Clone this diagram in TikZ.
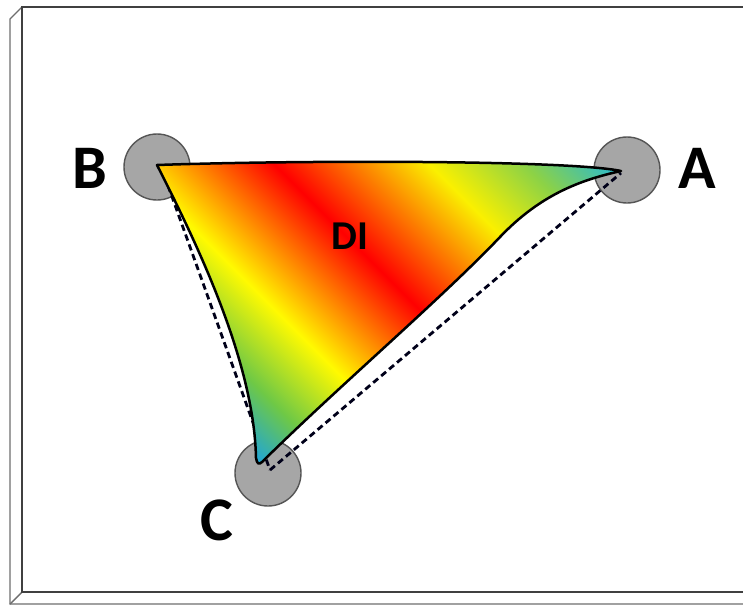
\documentclass[tikz,border=0pt]{standalone}
\usepackage{fontspec}
\setmainfont{Carlito}
\definecolor{boxgray}{RGB}{64,64,64}
\definecolor{backgray}{RGB}{110,110,110}
\definecolor{circfill}{RGB}{166,166,166}
\definecolor{circline}{RGB}{85,85,85}
\definecolor{gA}{RGB}{20,160,235}
\definecolor{gB}{RGB}{110,200,70}
\definecolor{gC}{RGB}{255,250,0}
\definecolor{gD}{RGB}{255,0,0}
\definecolor{gE}{RGB}{250,240,0}
\definecolor{gF}{RGB}{140,210,70}
\definecolor{gG}{RGB}{40,185,210}
\pgfdeclarehorizontalshading{rainbowDI}{100bp}{color(0bp)=(gA); color(28.04bp)=(gA); color(33.78bp)=(gB); color(40.2bp)=(gC); color(50bp)=(gD); color(60.47bp)=(gE); color(66.89bp)=(gF); color(72.97bp)=(gG); color(100bp)=(gG)}
\newcommand\DIshape{(157,165) .. controls (195,240) and (254,360) .. (256,458) .. controls (257,464) and (259,465) .. (262,462) .. controls (340,385) and (440,300) .. (500,237) .. controls (540,195) and (580,180) .. (621,171) .. controls (570,160) and (300,160) .. (157,165) -- cycle}
\begin{document}
\begin{tikzpicture}[x=0.5pt,y=-0.5pt,
  frontline/.style={draw=boxgray, line width=1.2pt},
  backline/.style={draw=backgray, line width=0.7pt},
  circ/.style={circle, fill=circfill, draw=circline, line width=0.7pt, minimum size=33pt, inner sep=0pt},
  dashline/.style={draw=black!90!blue, line width=1.4pt, dash pattern=on 3.2pt off 2pt},
  lbl/.style={font=\fontsize{31pt}{31pt}\selectfont\bfseries, text=black, inner sep=0pt},
  dilbl/.style={font=\fontsize{20.5pt}{20.5pt}\selectfont\bfseries, text=black, inner sep=0pt}]
\useasboundingbox (0,0) rectangle (743,606);
% 3D frame
\fill[white] (22,7) -- (10,19) -- (10,604) -- (743,604) -- (743,592) -- (22,592) -- cycle;
\draw[backline] (22,7) -- (10,19) -- (10,604) -- (743,604);
\draw[backline] (22,592) -- (10,604);
\draw[frontline] (743,7) -- (22,7) -- (22,592) -- (743,592);
% circles
\node[circ] (cB) at (157,167) {};
\node[circ] (cA) at (627,170) {};
\node[circ] (cC) at (268,473) {};
% dashed lines
\coordinate (dB) at (161,166);
\coordinate (dC) at (270,470);
\coordinate (dA) at (621,173);
\draw[dashline] (dB) -- (dC);
\draw[dashline] (dC) -- (dA);
% shaded shape
\begin{scope}
\clip \DIshape;
\begin{scope}[transform canvas={rotate around={45:(400,290)}}]
\shade[shading=rainbowDI] (138.4,-310) rectangle (661.6,890);
\end{scope}
\end{scope}
\draw[line width=1.25pt, line join=round] \DIshape;
% labels
\node[lbl] (lB) at (90,168) {B};
\node[lbl] (lA) at (697,168) {A};
\node[lbl] (lC) at (217,520) {C};
\node[dilbl] (lDI) at (350,236) {DI};
\end{tikzpicture}
\end{document}
